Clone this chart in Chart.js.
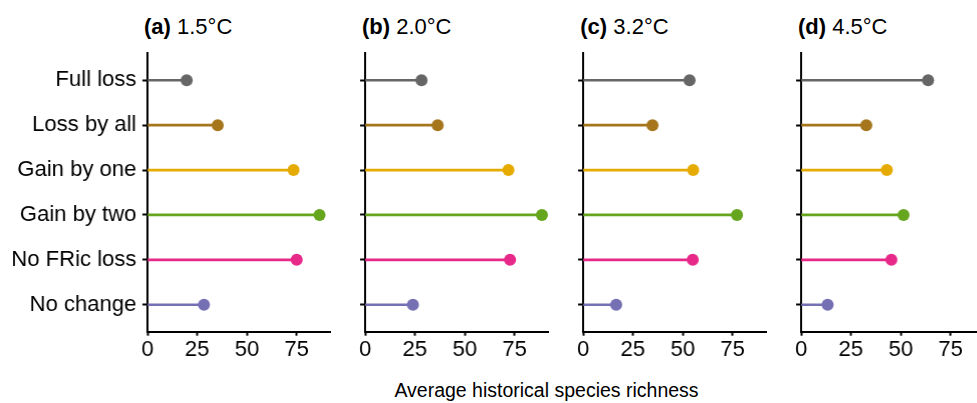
<!DOCTYPE html>
<html>
<head>
<meta charset="utf-8">
<script src="https://cdn.jsdelivr.net/npm/chart.js@4"></script>
<style>
  html, body { margin: 0; padding: 0; background: #fff; overflow: hidden; }
  body { width: 977px; height: 403px; position: relative; font-family: 'Liberation Sans', Arial, sans-serif; color: #000; }
  .panel { position: absolute; top: 40px; height: 340px; }
  .title { position: absolute; top: 14px; font-size: 22px; line-height: 25px; white-space: nowrap; }
  .title b { font-weight: bold; }
  #xtitle { position: absolute; top: 379px; left: 346px; width: 401px; text-align: center; font-size: 19.5px; line-height: 22px; white-space: nowrap; }
</style>
</head>
<body>
<div id="xtitle">Average historical species richness</div>
<script>
const categories = ['Full loss', 'Loss by all', 'Gain by one', 'Gain by two', 'No FRic loss', 'No change'];
const colors = ['#666666', '#A6761D', '#E6AB02', '#66A61E', '#E7298A', '#7570B3'];
const panelTags = ['(a)', '(b)', '(c)', '(d)'];
const warming = ['1.5°C', '2.0°C', '3.2°C', '4.5°C'];
const richness15 = [19.7, 35.3, 73.4, 86.5, 75.0, 28.4];
const richness20 = [28.3, 36.4, 71.9, 88.7, 72.7, 24.0];
const richness32 = [53.4, 34.8, 55.2, 77.2, 55.0, 16.6];
const richness45 = [63.7, 32.7, 43.0, 51.4, 45.3, 13.3];
const xTicks = [0, 25, 50, 75];
const xMax = 92;

const series = [richness15, richness20, richness32, richness45];
const plotLefts = [147, 365, 583.3, 801];
const plotWidth = 186.5;
const font = { family: "'Liberation Sans', Arial, sans-serif", size: 22 };

series.forEach((values, p) => {
    const yW = p === 0 ? 147 : 20;
    const box = document.createElement('div');
    box.className = 'panel';
    box.style.left = (plotLefts[p] - yW) + 'px';
    box.style.width = (yW + plotWidth + 2) + 'px';
    const canvas = document.createElement('canvas');
    box.appendChild(canvas);
    document.body.appendChild(box);

    const title = document.createElement('div');
    title.className = 'title';
    title.style.left = (plotLefts[p] - 3) + 'px';
    title.innerHTML = '<b>' + panelTags[p] + '</b> ' + warming[p];
    document.body.appendChild(title);

    const points = values.map((v, i) => ({ x: v, y: i }));

    new Chart(canvas.getContext('2d'), {
        type: 'bar',
        data: {
            datasets: [{
                data: points,
                backgroundColor: colors,
                borderWidth: 0,
                barThickness: 2
            }, {
                type: 'scatter',
                data: points,
                backgroundColor: colors,
                pointRadius: 6,
                pointBorderWidth: 0
            }]
        },
        options: {
            indexAxis: 'y',
            responsive: true,
            maintainAspectRatio: false,
            animation: false,
            layout: { padding: { top: 13.3, right: 2, left: 0, bottom: 0 } },
            plugins: { legend: { display: false }, tooltip: { enabled: false } },
            scales: {
                x: {
                    type: 'linear',
                    min: 0,
                    max: xMax,
                    offset: false,
                    afterBuildTicks: s => { s.ticks = xTicks.map(v => ({ value: v })); },
                    afterFit: s => { s.height = 48.3; },
                    ticks: { font: font, color: '#000', padding: 1, maxRotation: 0, autoSkip: false },
                    grid: { offset: false, drawOnChartArea: false, tickLength: 4, tickWidth: 2, tickColor: '#000' },
                    border: { color: '#000', width: 2 }
                },
                y: {
                    type: 'linear',
                    min: -0.6,
                    max: 5.6,
                    reverse: true,
                    offset: false,
                    afterBuildTicks: s => { s.ticks = categories.map((c, i) => ({ value: i })); },
                    afterFit: s => { s.width = yW; s.paddingTop = 0; s.paddingBottom = 0; },
                    ticks: {
                        font: font,
                        color: '#000',
                        padding: 6,
                        autoSkip: false,
                        callback: (v, i) => p === 0 ? categories[i] : ''
                    },
                    grid: { offset: false, drawOnChartArea: false, tickLength: 5, tickWidth: 2, tickColor: '#000' },
                    border: { color: '#000', width: 2 }
                }
            }
        }
    });
});
</script>
</body>
</html>
